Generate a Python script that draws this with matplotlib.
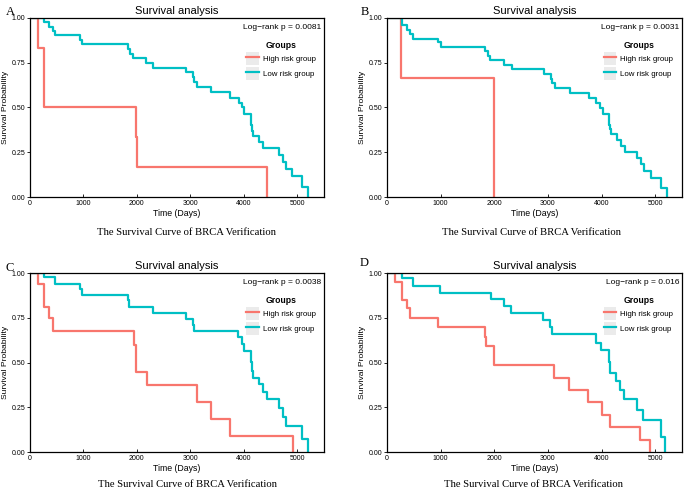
import numpy as np
import matplotlib
matplotlib.use("Agg")
import matplotlib.pyplot as plt
from matplotlib.patches import Patch
from matplotlib.lines import Line2D

plt.rcParams['font.family'] = ['Liberation Sans', 'DejaVu Sans']

# Kaplan-Meier steps (time in days, survival after the drop)
A_high_t = [145, 270, 1985, 1995, 4430]
A_high_s = [0.833, 0.50, 0.333, 0.167, 0.0]
A_low_t = [270, 360, 425, 470, 940, 980, 1825, 1875, 1925, 2175, 2310, 2920, 3045,
           3075, 3125, 3390, 3750, 3905, 3970, 4010, 4140, 4150, 4175, 4280, 4355,
           4655, 4730, 4795, 4905, 5095, 5200]
A_low_s = [0.975, 0.95, 0.93, 0.905, 0.878, 0.856, 0.826, 0.80, 0.776, 0.75, 0.723,
           0.697, 0.669, 0.641, 0.613, 0.585, 0.555, 0.527, 0.501, 0.462, 0.405,
           0.366, 0.34, 0.308, 0.275, 0.237, 0.198, 0.159, 0.118, 0.056, 0.0]

B_high_t = [270, 1995, 2000]
B_high_s = [0.667, 0.333, 0.0]
B_low_t = [280, 375, 435, 485, 955, 1000, 1830, 1875, 1920, 2190, 2325, 2925, 3050,
           3080, 3125, 3405, 3760, 3905, 3970, 4020, 4145, 4155, 4170, 4280, 4360,
           4435, 4670, 4740, 4795, 4925, 5110, 5220]
B_low_s = [0.96, 0.935, 0.909, 0.884, 0.864, 0.839, 0.813, 0.789, 0.764, 0.738, 0.714,
           0.688, 0.662, 0.636, 0.609, 0.583, 0.555, 0.527, 0.499, 0.462, 0.402,
           0.378, 0.35, 0.318, 0.286, 0.252, 0.219, 0.185, 0.144, 0.107, 0.052, 0.0]

C_high_t = [145, 270, 360, 425, 1940, 1975, 2190, 3125, 3395, 3750, 4920]
C_high_s = [0.938, 0.811, 0.746, 0.677, 0.60, 0.447, 0.374, 0.28, 0.187, 0.09, 0.0]
C_low_t = [270, 470, 940, 980, 1825, 1850, 2310, 2920, 3045, 3075, 3895, 3970, 4010,
           4140, 4150, 4175, 4280, 4355, 4440, 4655, 4730, 4795, 5095, 5200]
C_low_s = [0.978, 0.938, 0.912, 0.878, 0.85, 0.811, 0.778, 0.744, 0.71, 0.677, 0.643,
           0.606, 0.565, 0.503, 0.452, 0.415, 0.378, 0.336, 0.294, 0.247, 0.193,
           0.144, 0.071, 0.0]

D_high_t = [145, 280, 375, 435, 955, 1825, 1840, 1990, 2000, 3115, 3395, 3750, 4005,
            4155, 4720, 4910]
D_high_s = [0.95, 0.85, 0.804, 0.751, 0.70, 0.645, 0.594, 0.542, 0.486, 0.415, 0.346,
            0.277, 0.206, 0.138, 0.069, 0.0]
D_low_t = [280, 485, 980, 1935, 2180, 2320, 2915, 3040, 3070, 3895, 3990, 4140, 4150,
           4270, 4350, 4425, 4655, 4780, 5110, 5190]
D_low_s = [0.97, 0.93, 0.888, 0.854, 0.813, 0.776, 0.736, 0.699, 0.66, 0.611, 0.57,
           0.505, 0.439, 0.396, 0.346, 0.295, 0.237, 0.178, 0.084, 0.0]

panels = [
    ("A", A_high_t, A_high_s, A_low_t, A_low_s, "Log\u2212rank p = 0.0081"),
    ("B", B_high_t, B_high_s, B_low_t, B_low_s, "Log\u2212rank p = 0.0031"),
    ("C", C_high_t, C_high_s, C_low_t, C_low_s, "Log\u2212rank p = 0.0038"),
    ("D", D_high_t, D_high_s, D_low_t, D_low_s, "Log\u2212rank p = 0.016"),
]
group_names = ["High risk group", "Low risk group"]
colors = ["#F8766D", "#00BFC4"]

W, H = 685, 490
fig = plt.figure(figsize=(W / 100, H / 100), dpi=100)

# axes boxes in pixels: left, top, right, bottom
boxes = [(30, 18, 324, 197), (387, 18, 682, 197),
         (30, 273, 324, 452), (387, 273, 682, 452)]
letter_pos = [(6, 12), (361, 12), (5, 268), (360, 263)]
caption_pos = [(187, 232), (531, 232), (188, 484), (534, 484)]

for i, (letter, ht, hs, lt, ls, ptxt) in enumerate(panels):
    l, t, r, b = boxes[i]
    ax = fig.add_axes([l / W, 1 - b / H, (r - l) / W, (b - t) / H])

    for times, surv, c in [(ht, hs, colors[0]), (lt, ls, colors[1])]:
        x = np.concatenate([[0], times])
        y = np.concatenate([[1.0], surv])
        ax.step(x, y, where="post", color=c, lw=1.6)

    ax.set_xlim(0, 5500)
    ax.set_ylim(0, 1)
    ax.set_xticks([0, 1000, 2000, 3000, 4000, 5000])
    ax.set_yticks([0, 0.25, 0.5, 0.75, 1.0])
    ax.set_yticklabels(["0.00", "0.25", "0.50", "0.75", "1.00"])
    ax.tick_params(labelsize=5, length=2, width=0.6, pad=1.2)
    ax.tick_params(axis="x", direction="in", pad=2)
    for sp in ax.spines.values():
        sp.set_linewidth(0.9)
    ax.set_xlabel("Time (Days)", fontsize=6.3, labelpad=1.5)
    ax.set_ylabel("Survival Probability", fontsize=6.1)
    ax.yaxis.set_label_coords(-0.071, 0.5)
    ax.set_title("Survival analysis", fontsize=8, pad=3)

    ax.text(0.99, 0.945, ptxt, transform=ax.transAxes, ha="right", va="center",
            fontsize=6)

    handles = [(Patch(facecolor="#EBEBEB", edgecolor="none"),
                Line2D([], [], color=c, lw=1.6)) for c in colors]
    ax.legend(handles, group_names, title="Groups", loc="upper left",
              bbox_to_anchor=(0.735, 0.872), frameon=False, fontsize=5.7,
              title_fontproperties={"weight": "bold", "size": 6.2},
              handlelength=1.6, handleheight=2.1, handletextpad=0.5,
              labelspacing=0.3, borderpad=0, borderaxespad=0)

    fig.text(letter_pos[i][0] / W, 1 - letter_pos[i][1] / H, letter,
             family="Liberation Serif", fontsize=9, ha="left", va="center")
    fig.text(caption_pos[i][0] / W, 1 - caption_pos[i][1] / H,
             "The Survival Curve of BRCA Verification",
             family="Liberation Serif", fontsize=7.7, ha="center", va="center")

fig.savefig("out.png", dpi=100, facecolor="white")
